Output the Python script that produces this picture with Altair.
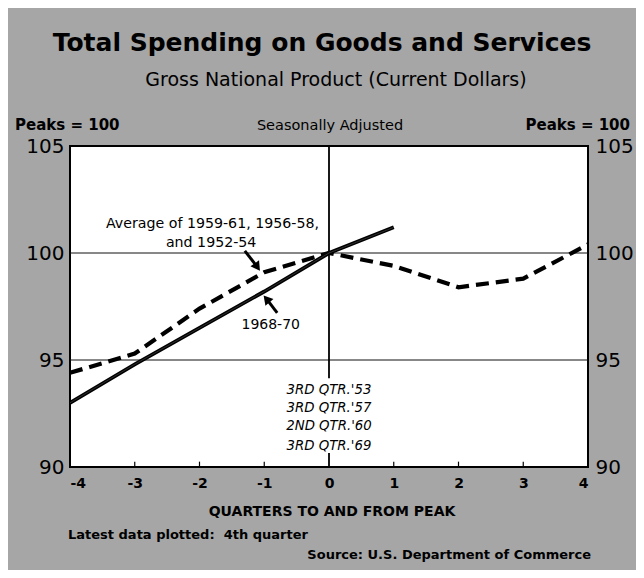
import altair as alt
import pandas as pd

FONT = "DejaVu Sans"

# ---- data ----
quarters = [-4, -3, -2, -1, 0, 1, 2, 3, 4]
avg_values = [94.4, 95.3, 97.4, 99.1, 100.0, 99.4, 98.4, 98.8, 100.4]

q_1968 = [-4, -3, -2, -1, 0, 1]
vals_1968 = [93.0, 94.8, 96.5, 98.2, 100.0, 101.2]

y_ticks = [90, 95, 100, 105]
grid_values = [95, 100]
minor_ticks = [-3, -2, -1, 1, 2, 3]

peak_labels = ["3RD QTR.'53", "3RD QTR.'57", "2ND QTR.'60", "3RD QTR.'69"]
peak_label_y = [93.6, 92.75, 91.9, 91.0]

avg_label_lines = ["Average of 1959-61, 1956-58,", "and 1952-54"]
avg_label_x = [-1.8, -1.82]
avg_label_y = [101.35, 100.45]

label_1968 = ["1968-70"]
label_1968_x = [-0.9]
label_1968_y = [96.65]

# arrows: start (q, v) -> head (q2, v2)
arrow_q = [-1.30, -0.80]
arrow_v = [100.1, 97.2]
arrow_q2 = [-1.12, -0.95]
arrow_v2 = [99.4, 97.8]
arrow_angle = [145, 320]

avg_df = pd.DataFrame({"q": quarters, "v": avg_values})
df68 = pd.DataFrame({"q": q_1968, "v": vals_1968})
grid_df = pd.DataFrame({"v": grid_values})
tick_df = pd.DataFrame({"q": minor_ticks, "v": [90] * len(minor_ticks), "v2": [90.25] * len(minor_ticks)})
zero_df = pd.DataFrame({"q": [0, 0], "v": [105, 90], "v2": [94.15, 90.65]})
peak_df = pd.DataFrame({"q": [0] * 4, "v": peak_label_y, "t": peak_labels})
avg_lab_df = pd.DataFrame({"q": avg_label_x, "v": avg_label_y, "t": avg_label_lines})
lab68_df = pd.DataFrame({"q": label_1968_x, "v": label_1968_y, "t": label_1968})
arrow_df = pd.DataFrame({"q": arrow_q, "v": arrow_v, "q2": arrow_q2, "v2": arrow_v2, "a": arrow_angle})
head_df = pd.DataFrame({"q": arrow_q2, "v": arrow_v2, "a": arrow_angle})

xscale = alt.Scale(domain=[-4, 4], nice=False, zero=False)
yscale = alt.Scale(domain=[90, 105], nice=False, zero=False)

X = alt.X("q:Q", scale=xscale,
          axis=alt.Axis(values=quarters, title=None, ticks=False, domain=False, grid=False,
                        labelFont=FONT, labelFontSize=14, labelFontWeight="bold",
                        labelColor="black", labelPadding=9,
                        labelExpr="datum.value < 0 ? '-' + abs(datum.value) : '' + datum.value"))
Y = alt.Y("v:Q", scale=yscale,
          axis=alt.Axis(values=y_ticks, title=None, ticks=False, domain=False, grid=False,
                        labelFont=FONT, labelFontSize=20, labelColor="black", labelPadding=6))
Y_right = alt.Y("v:Q", scale=yscale,
                axis=alt.Axis(orient="right", values=y_ticks, title=None, ticks=False, domain=False,
                              grid=False, labelFont=FONT, labelFontSize=20, labelColor="black",
                              labelPadding=7))

grid = alt.Chart(grid_df).mark_rule(color="#111", strokeWidth=1).encode(y=Y)
ticks = alt.Chart(tick_df).mark_rule(color="black", strokeWidth=1.2).encode(x=X, y=Y, y2="v2:Q")
zero_line = alt.Chart(zero_df).mark_rule(color="black", strokeWidth=1.8).encode(x=X, y=Y, y2="v2:Q")

avg_line = alt.Chart(avg_df).mark_line(color="black", strokeWidth=4.2, strokeDash=[13, 7]).encode(x=X, y=Y)
line68 = alt.Chart(df68).mark_line(color="black", strokeWidth=3.8).encode(x=X, y=Y)
line68_in = alt.Chart(df68).mark_line(color="#3a3a3a", strokeWidth=0.8).encode(x=X, y=Y)

arrows = alt.Chart(arrow_df).mark_rule(color="black", strokeWidth=3).encode(
    x=X, y=Y, x2="q2:Q", y2="v2:Q")
heads = alt.Chart(head_df).mark_point(shape="triangle", filled=True, color="black", size=110, opacity=1).encode(
    x=X, y=Y, angle=alt.Angle("a:Q", scale=None))

peak_text = alt.Chart(peak_df).mark_text(font=FONT, fontSize=13.3, fontStyle="italic", color="black").encode(
    x=X, y=Y, text="t:N")
avg_text = alt.Chart(avg_lab_df).mark_text(font=FONT, fontSize=14.2, color="black").encode(
    x=X, y=Y, text="t:N")
text68 = alt.Chart(lab68_df).mark_text(font=FONT, fontSize=14, color="black").encode(
    x=X, y=Y, text="t:N")


def label(txt, x, y, size, weight="normal", align="center", style="normal"):
    return alt.Chart(pd.DataFrame({"t": [txt]})).mark_text(
        font=FONT, fontSize=size, fontWeight=weight, align=align, fontStyle=style,
        baseline="middle", color="black").encode(
        x=alt.value(x), y=alt.value(y), text="t:N")


texts = [
    label("Total Spending on Goods and Services", 252, -103, 25, "bold"),
    label("Gross National Product (Current Dollars)", 266, -66, 19),
    label("Peaks = 100", -55, -21, 15, "bold", "left"),
    label("Seasonally Adjusted", 260, -20, 14.5),
    label("Peaks = 100", 560, -21, 15, "bold", "right"),
    label("QUARTERS TO AND FROM PEAK", 262, 366, 14, "bold"),
    label("Latest data plotted:\u00a0 4th quarter", -2, 389, 13, "bold", "left"),
    label("Source: U.S. Department of Commerce", 521, 409, 13, "bold", "right"),
]

main = alt.layer(grid, ticks, zero_line, avg_line, line68, line68_in, arrows, heads,
                 peak_text, avg_text, text68, *texts)
right_axis = alt.Chart(avg_df).mark_line(opacity=0).encode(x=X, y=Y_right)

chart = alt.layer(main, right_axis).resolve_scale(y="independent").properties(
    width=518, height=321,
    padding={"left": 62, "top": 138, "right": 48, "bottom": 103},
    autosize=alt.AutoSizeParams(type="none"),
    background="#a6a6a6",
).configure_view(fill="white", stroke="black", strokeWidth=2)

chart.save("out.html", embed_options={"renderer": "svg", "actions": False})
